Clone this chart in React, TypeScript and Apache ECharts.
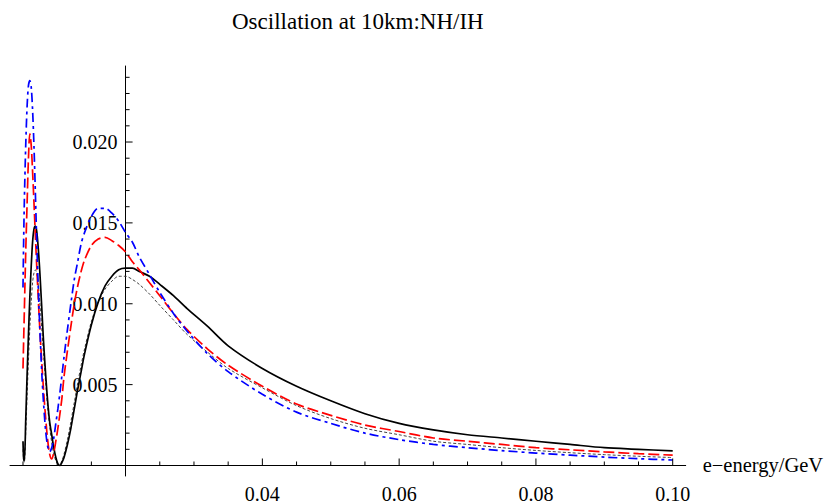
import React, { useEffect, useRef } from 'react';
import * as echarts from 'echarts';

// e-energy in GeV
const energy = [
  0.0050, 0.0051, 0.0052, 0.0054, 0.0056, 0.0058, 0.0060, 0.0062, 0.0064, 0.0066,
  0.0068, 0.0070, 0.0072, 0.0074, 0.0076, 0.0078, 0.0080, 0.0083, 0.0086, 0.0089,
  0.0092, 0.0095, 0.0098, 0.0101, 0.0104, 0.0107, 0.0110, 0.0115, 0.0120, 0.0125,
  0.0130, 0.0135, 0.0140, 0.0150, 0.0160, 0.0170, 0.0180, 0.0190, 0.0200, 0.0210,
  0.0220, 0.0235, 0.0250, 0.0270, 0.0290, 0.0320, 0.0350, 0.0400, 0.0450, 0.0500,
  0.0550, 0.0600, 0.0650, 0.0700, 0.0750, 0.0800, 0.0850, 0.0900, 0.0950, 0.1000,
];

// black solid curve
const blackSolid = [
  0.0015, 0.0004, 0.0003, 0.0028, 0.0056, 0.0081, 0.0104, 0.0123, 0.0138, 0.0146,
  0.0148, 0.0145, 0.0136, 0.0124, 0.0109, 0.0093, 0.0077, 0.0057, 0.0040, 0.0027,
  0.0019, 0.0011, 0.0005, 0.0001, 0.0000, 0.0002, 0.0005, 0.0013, 0.0023, 0.0035,
  0.0047, 0.0058, 0.0069, 0.0087, 0.0101, 0.0111, 0.0117, 0.0121, 0.0122, 0.0122,
  0.0120, 0.0117, 0.0112, 0.0105, 0.0097, 0.0086, 0.0074, 0.0060, 0.0049, 0.0040,
  0.0032, 0.0026, 0.0022, 0.0019, 0.0017, 0.0015, 0.0013, 0.0011, 0.0010, 0.0009,
];

// thin grey dashed curve
const greyDashed = [
  0.0010, 0.0003, 0.0002, 0.0020, 0.0043, 0.0065, 0.0085, 0.0101, 0.0113, 0.0119,
  0.0121, 0.0119, 0.0113, 0.0104, 0.0093, 0.0081, 0.0069, 0.0052, 0.0036, 0.0024,
  0.0014, 0.0007, 0.0003, 0.0001, 0.0001, 0.0003, 0.0007, 0.0016, 0.0027, 0.0039,
  0.0051, 0.0062, 0.0072, 0.0089, 0.0101, 0.0109, 0.0114, 0.0117, 0.0117, 0.0115,
  0.0112, 0.0106, 0.0099, 0.0090, 0.0081, 0.0070, 0.0060, 0.0048, 0.0037, 0.0029,
  0.0023, 0.0019, 0.0015, 0.0013, 0.0011, 0.00093, 0.00079, 0.00067, 0.00057, 0.00049,
];

// red long-dashed curve
const redDashed = [
  0.0060, 0.0078, 0.0096, 0.0132, 0.0162, 0.0190, 0.0205, 0.0198, 0.0182, 0.0163,
  0.0143, 0.0124, 0.0106, 0.0089, 0.0074, 0.0060, 0.0047, 0.0030, 0.0016, 0.0007,
  0.0004, 0.0008, 0.0015, 0.0023, 0.0032, 0.0042, 0.0055, 0.0071, 0.0086, 0.0100,
  0.0111, 0.0120, 0.0127, 0.0136, 0.0140, 0.0141, 0.0139, 0.0136, 0.0132, 0.0126,
  0.0121, 0.0113, 0.0105, 0.0094, 0.0084, 0.0072, 0.0062, 0.0049, 0.0038, 0.0031,
  0.0025, 0.0021, 0.0017, 0.0015, 0.0013, 0.0011, 0.00097, 0.00084, 0.00073, 0.00064,
];

// blue dot-dashed curve
const blueDotDashed = [
  0.0110, 0.0140, 0.0164, 0.0198, 0.0222, 0.0235, 0.0238, 0.0234, 0.0220, 0.0198,
  0.0170, 0.0140, 0.0114, 0.0091, 0.0071, 0.0053, 0.0039, 0.0022, 0.0012, 0.00085,
  0.0011, 0.0017, 0.0026, 0.0035, 0.0045, 0.0056, 0.0067, 0.0084, 0.0100, 0.0115,
  0.0126, 0.0137, 0.0144, 0.0154, 0.0159, 0.0159, 0.0156, 0.0151, 0.0144, 0.0138,
  0.0129, 0.0118, 0.0107, 0.0094, 0.0083, 0.0069, 0.0058, 0.0044, 0.0033, 0.0026,
  0.0020, 0.0016, 0.0013, 0.0011, 0.00092, 0.00077, 0.00064, 0.00052, 0.00042, 0.00034,
];

const xMajorTicks = [0.04, 0.06, 0.08, 0.1];
const xMinorTicks = [
  0.005, 0.01, 0.015, 0.025, 0.03, 0.035, 0.045, 0.05, 0.055,
  0.065, 0.07, 0.075, 0.085, 0.09, 0.095,
];
const yMajorTicks = [0.005, 0.01, 0.015, 0.02];
const yMinorTicks = [
  0.001, 0.002, 0.003, 0.004, 0.006, 0.007, 0.008, 0.009,
  0.011, 0.012, 0.013, 0.014, 0.016, 0.017, 0.018, 0.019,
  0.021, 0.022, 0.023, 0.024,
];

const X_MIN = 0.0031;
const X_MAX = 0.1019;
const Y_MIN = -0.00065;
const Y_MAX = 0.0247;
const Y_AXIS_AT = 0.02;

const FONT = "'Liberation Serif', 'Times New Roman', serif";

export default function App() {
  const ref = useRef<HTMLDivElement>(null);

  useEffect(() => {
    document.body.style.margin = '0';
    const el = ref.current;
    if (!el) return;
    const chart = echarts.init(el, null, { renderer: 'svg' });

    const W = 827;
    const gridLeft = 10;
    const gridRight = 141.3;
    const gridWidth = W - gridLeft - gridRight;
    const yOffset = -((Y_AXIS_AT - X_MIN) / (X_MAX - X_MIN)) * gridWidth;

    const mk = (vals: number[]) => energy.map((x, i) => [x, vals[i]]);

    const baseSeries = {
      type: 'line' as const,
      showSymbol: false,
      symbol: 'none',
      smooth: 0.3,
      silent: true,
    };

    // tick marks, positioned through the axes' scales (inward-pointing, Mathematica style)
    const tickSeries = (vals: number[], dir: 'x' | 'y', len: number) => ({
      type: 'custom' as const,
      silent: true,
      z: 10,
      clip: false,
      data: vals.map((v) => (dir === 'x' ? [v, 0] : [Y_AXIS_AT, v])),
      renderItem: (_params: any, api: any) => {
        const p = api.coord([api.value(0), api.value(1)]);
        const x2 = dir === 'x' ? p[0] : p[0] + len;
        const y2 = dir === 'x' ? p[1] - len : p[1];
        return {
          type: 'line',
          shape: { x1: p[0], y1: p[1], x2, y2 },
          style: { stroke: '#000', lineWidth: 1 },
        };
      },
    });

    chart.setOption({
      animation: false,
      backgroundColor: '#fff',
      title: {
        text: 'Oscillation at 10km:NH/IH',
        left: 227,
        top: 5,
        textStyle: { fontFamily: FONT, fontSize: 23, fontWeight: 'normal', color: '#000' },
      },
      grid: { left: gridLeft, right: gridRight, top: 66, bottom: 21 },
      xAxis: {
        type: 'value',
        min: X_MIN,
        max: X_MAX,
        position: 'bottom',
        name: 'e\u2212energy/GeV',
        nameLocation: 'end',
        nameGap: 17,
        nameTextStyle: { fontFamily: FONT, fontSize: 20.5, color: '#000', verticalAlign: 'middle' },
        axisLine: { show: true, onZero: true, lineStyle: { color: '#000', width: 1 } },
        axisTick: { show: false },
        axisLabel: {
          show: true,
          customValues: xMajorTicks,
          formatter: (v: number) => v.toFixed(2),
          fontFamily: FONT,
          fontSize: 20,
          color: '#000',
          margin: 8,
        },
        splitLine: { show: false },
      },
      yAxis: {
        type: 'value',
        min: Y_MIN,
        max: Y_MAX,
        position: 'left',
        offset: yOffset,
        axisLine: { show: true, onZero: false, lineStyle: { color: '#000', width: 1 } },
        axisTick: { show: false },
        axisLabel: {
          show: true,
          customValues: yMajorTicks,
          formatter: (v: number) => v.toFixed(3),
          fontFamily: FONT,
          fontSize: 20,
          color: '#000',
          margin: 8,
        },
        splitLine: { show: false },
      },
      series: [
        {
          ...baseSeries,
          name: 'grey dashed',
          data: mk(greyDashed),
          lineStyle: { color: '#444', width: 1, type: [3, 2] },
          z: 2,
        },
        {
          ...baseSeries,
          name: 'black solid',
          data: mk(blackSolid),
          lineStyle: { color: '#000', width: 1.7, type: 'solid' },
          z: 3,
        },
        {
          ...baseSeries,
          name: 'red dashed',
          data: mk(redDashed),
          lineStyle: { color: '#ff0000', width: 1.7, type: [11, 4] },
          z: 4,
        },
        {
          ...baseSeries,
          name: 'blue dot-dashed',
          data: mk(blueDotDashed),
          lineStyle: { color: '#0000ff', width: 1.7, type: [9, 4, 3, 4] },
          z: 5,
        },
        tickSeries(xMajorTicks, 'x', 7),
        tickSeries(xMinorTicks, 'x', 4),
        tickSeries(yMajorTicks, 'y', 7),
        tickSeries(yMinorTicks, 'y', 4),
      ],
    });

    return () => chart.dispose();
  }, []);

  return <div ref={ref} style={{ width: 827, height: 504 }} />;
}
